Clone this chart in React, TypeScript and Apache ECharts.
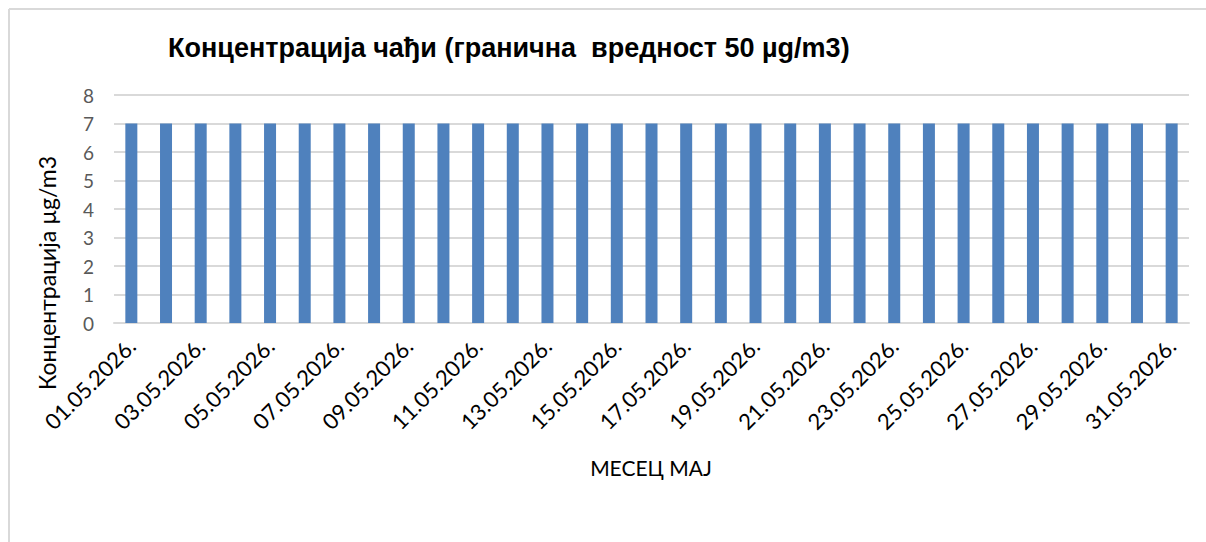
import React, { useEffect, useRef } from "react";
import * as echarts from "echarts";

const days: string[] = [
  "01", "02", "03", "04", "05", "06", "07", "08", "09", "10",
  "11", "12", "13", "14", "15", "16", "17", "18", "19", "20",
  "21", "22", "23", "24", "25", "26", "27", "28", "29", "30", "31",
];
const categories: string[] = days.map((d) => `${d}.05.2026.`);
const values: number[] = [
  7, 7, 7, 7, 7, 7, 7, 7, 7, 7,
  7, 7, 7, 7, 7, 7, 7, 7, 7, 7,
  7, 7, 7, 7, 7, 7, 7, 7, 7, 7, 7,
];
const titleText = "Концентрација чађи (гранична  вредност 50 µg/m3)";
const yName = "Концентрација µg/m3";
const xName = "МЕСЕЦ МАЈ";

export default function App() {
  const ref = useRef<HTMLDivElement>(null);
  useEffect(() => {
    document.body.style.margin = "0";
    const chart = echarts.init(ref.current!, null, { renderer: "svg" });
    chart.setOption({
      animation: false,
      backgroundColor: "#ffffff",
      title: {
        text: titleText,
        left: 163,
        top: 29,
        textStyle: {
          fontFamily: "Liberation Sans, Arial, sans-serif",
          fontWeight: "bold",
          fontSize: 27,
          color: "#000000",
        },
      },
      graphic: [
        { type: "line", shape: { x1: 9, y1: 9, x2: 1206, y2: 9 }, style: { stroke: "#d9d9d9", lineWidth: 2 } },
        { type: "line", shape: { x1: 9, y1: 9, x2: 9, y2: 542 }, style: { stroke: "#d9d9d9", lineWidth: 2 } },
        {
          type: "text",
          x: 47,
          y: 273,
          rotation: Math.PI / 2,
          style: {
            text: yName,
            fontFamily: "Lato, sans-serif",
            fontSize: 23,
            fill: "#000000",
            align: "center",
            verticalAlign: "middle",
          },
        },
        {
          type: "text",
          x: 651,
          y: 467,
          style: {
            text: xName,
            fontFamily: "Lato, sans-serif",
            fontSize: 21,
            fill: "#000000",
            align: "center",
            verticalAlign: "middle",
          },
        },
      ],
      grid: { left: 114, right: 17, top: 95, bottom: 219, containLabel: false },
      xAxis: {
        type: "category",
        data: categories,
        axisLine: { show: true, lineStyle: { color: "#d9d9d9", width: 2 } },
        axisTick: { show: false },
        axisLabel: {
          interval: 1,
          rotate: 45,
          margin: 19,
          fontFamily: "Lato, sans-serif",
          fontSize: 22,
          color: "#000000",
        },
      },
      yAxis: {
        type: "value",
        min: 0,
        max: 8,
        interval: 1,
        axisLine: { show: false },
        axisTick: { show: false },
        splitLine: { lineStyle: { color: "#d9d9d9", width: 2 } },
        axisLabel: {
          margin: 20,
          fontFamily: "Lato, sans-serif",
          fontSize: 19,
          color: "#595959",
        },
      },
      series: [
        {
          type: "bar",
          data: values,
          barWidth: 12,
          itemStyle: { color: "#4f81bd" },
        },
      ],
    });
    return () => chart.dispose();
  }, []);
  return <div ref={ref} style={{ width: 1206, height: 542 }} />;
}
